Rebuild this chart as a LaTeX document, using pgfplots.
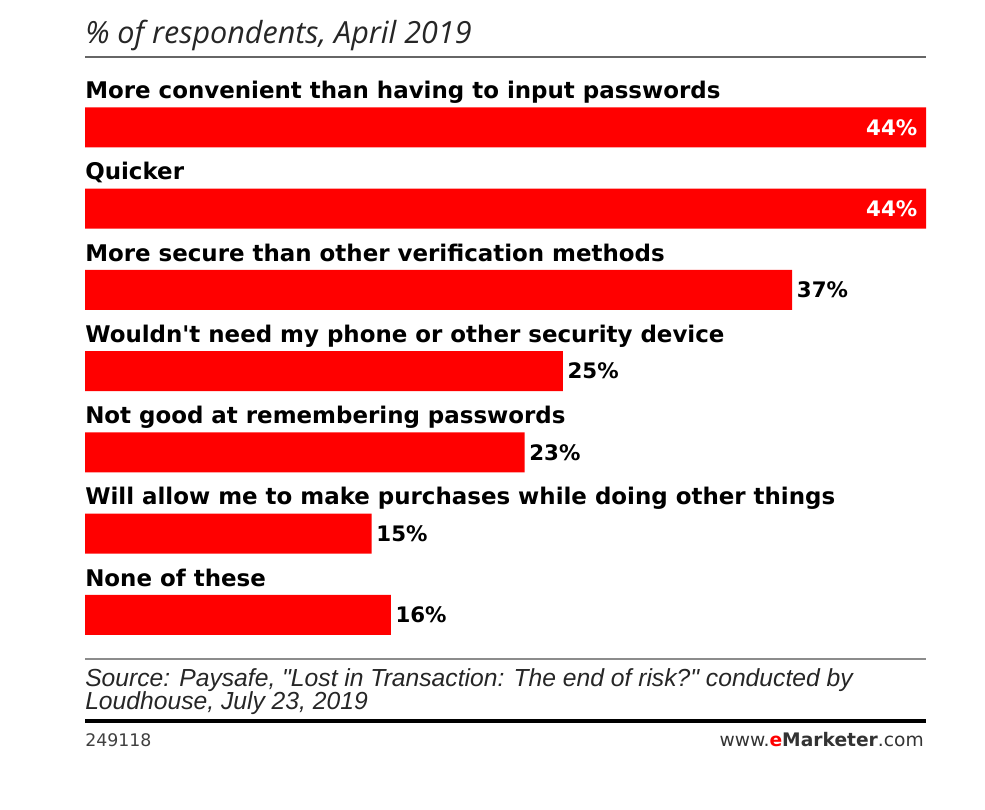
\documentclass[border=0pt]{standalone}
\usepackage{pgfplots}
\pgfplotsset{compat=1.18}
\usepackage{fontspec}
\setmainfont{Liberation Sans}
\newfontfamily\srcfont{Liberation Sans}[Ligatures=TeXOff]
\newfontfamily\labfont{DejaVu Sans}
\newfontfamily\titfont{Open Sans}
\definecolor{barred}{HTML}{FF0000}
\begin{document}
\begin{tikzpicture}
\begin{scope}[x=0.75pt,y=-0.75pt]
\path[fill=white] (0,0) rectangle (985,810);
\coordinate (axSW) at (85,655.5);
\node[anchor=base west, inner sep=0pt, font=\titfont\itshape\fontsize{22.9}{26}\selectfont, text=black!85] at (85,43) {\% of respondents, April 2019};
\draw[black!60, line width=1.5pt] (85,57) -- (926,57);
\draw[black!45, line width=1.5pt] (85,659) -- (926,659);
\node[anchor=base west, inner sep=0pt, font=\srcfont\itshape\fontsize{18.5}{22}\selectfont, text=black!85] at (85,686) {Source: Paysafe, "Lost in Transaction: The end of risk?" conducted by};
\node[anchor=base west, inner sep=0pt, font=\srcfont\itshape\fontsize{18.5}{22}\selectfont, text=black!85] at (85,709) {Loudhouse, July 23, 2019};
\draw[black, line width=3.5pt] (85,721) -- (926,721);
\node[anchor=base west, inner sep=0pt, font=\labfont\fontsize{13}{15}\selectfont, text=black!75] at (85,746) {249118};
\node[anchor=base east, inner sep=0pt, font=\labfont\fontsize{14}{16}\selectfont, text=black!80] at (924,746.5) {www.{\bfseries\color{barred}e}{\bfseries Marketer}.com};
\end{scope}
\begin{axis}[at={(axSW)}, anchor=south west, scale only axis,
  width=630.75pt, height=426.6pt,
  xmin=0, xmax=44, ymin=-0.5, ymax=6.5, y dir=reverse,
  axis lines=none, ticks=none, clip=false,
  xbar, bar width=30pt,
  /pgf/number format/assume math mode=true,
  nodes near coords={\pgfmathprintnumber{\pgfplotspointmeta}\%},
  point meta=x]
\addplot[fill=barred, draw=none, bar shift=0pt,
  nodes near coords style={anchor=east, text=white, font=\labfont\bfseries\fontsize{16}{19}\selectfont, xshift=-3pt}]
  coordinates {(44,0) (44,1)};
\addplot[fill=barred, draw=none, bar shift=0pt,
  nodes near coords style={anchor=west, text=black, font=\labfont\bfseries\fontsize{16}{19}\selectfont}]
  coordinates {(37,2) (25,3) (23,4) (15,5) (16,6)};
\foreach \i/\t in {0/More convenient than having to input passwords,
  1/Quicker,
  2/More secure than other verification methods,
  3/Wouldn't need my phone or other security device,
  4/Not good at remembering passwords,
  5/Will allow me to make purchases while doing other things,
  6/None of these}{
  \edef\tmp{\noexpand\node[anchor=base west, inner sep=0pt, font=\noexpand\labfont\noexpand\bfseries\noexpand\fontsize{17.2}{20}\noexpand\selectfont] at (axis cs:0,\i-0.353) {\t};}
  \tmp
}
\end{axis}
\end{tikzpicture}
\end{document}
